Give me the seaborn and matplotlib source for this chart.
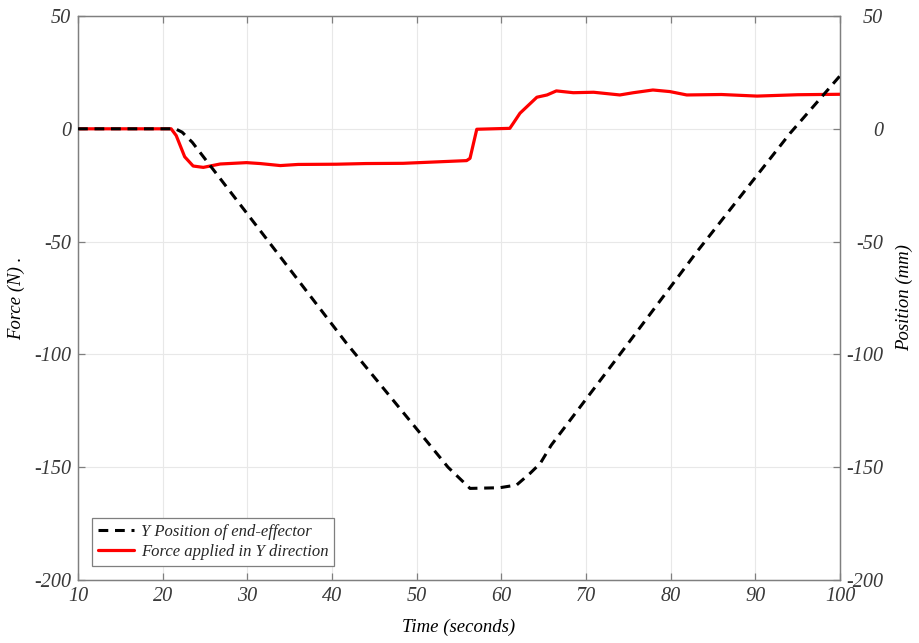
import matplotlib
matplotlib.use("Agg")
import matplotlib.pyplot as plt
import seaborn as sns
import pandas as pd

# ---- data ----
pos_time = [10, 21.5, 22.3, 23.5, 31.9, 41.7, 53.7, 56.3, 59.8, 61.8,
            63.4, 64.6, 65.9, 74, 83, 94.1, 100]
pos_mm = [0, 0, -1.5, -6, -47, -95, -150, -159.4, -159.1, -157.9,
          -152.7, -148.3, -140.2, -100, -55, -2, 23.5]

force_time = [10, 21.0, 21.6, 22.6, 23.6, 24.8, 26.8, 29.9, 31.5, 33.9, 36.0, 40.5,
              44.0, 48.4, 52.8, 55.9, 56.3, 57.1, 61.0, 61.4, 62.2, 64.2, 65.4, 66.5,
              68.5, 70.9, 74.0, 75.6, 77.9, 79.9, 81.9, 86.0, 90.2, 95.0, 100]
force_n = [0, 0, -3, -12.4, -16.5, -17.1, -15.6, -15, -15.4, -16.3, -15.8, -15.7,
           -15.4, -15.3, -14.6, -14.1, -13.1, -0.2, 0.2, 2.4, 6.9, 14, 15, 16.8,
           16, 16.2, 15, 16, 17.2, 16.5, 15, 15.2, 14.5, 15.1, 15.3]

x_ticks = [10, 20, 30, 40, 50, 60, 70, 80, 90, 100]
y_ticks = [-200, -150, -100, -50, 0, 50]
labels = ["Y Position of end-effector", "Force applied in Y direction"]

pos_df = pd.DataFrame({"t": pos_time, "v": pos_mm})
force_df = pd.DataFrame({"t": force_time, "v": force_n})

sns.set_theme(style="whitegrid")
plt.rcParams["font.family"] = ["Liberation Serif", "DejaVu Serif"]
plt.rcParams["font.style"] = "italic"
plt.rcParams["axes.unicode_minus"] = False

fig = plt.figure(figsize=(9.2, 6.43), dpi=100)
ax = fig.add_axes([78 / 920, 1 - 580 / 643, (840 - 78) / 920, (580 - 16) / 643])
ax2 = ax.twinx()

spine_col = "#7f7f7f"
tick_col = "#3a3a3a"

sns.lineplot(data=force_df, x="t", y="v", ax=ax, color="#ff0000", linewidth=2.3,
             label=labels[1], legend=False, zorder=3)
sns.lineplot(data=pos_df, x="t", y="v", ax=ax2, color="black", linewidth=2.2,
             label=labels[0], legend=False, zorder=3)
ax2.lines[0].set_dashes([3.2, 2.2])

for a in (ax, ax2):
    a.set_xlim(10, 100)
    a.set_ylim(-200, 50)
    a.set_yticks(y_ticks)
    a.set_facecolor("none")
    for s in a.spines.values():
        s.set_color(spine_col)
        s.set_linewidth(0.9)
ax.set_facecolor("white")
ax.set_xticks(x_ticks)
ax.grid(True, color="#e8e8e8", linewidth=0.8)
ax2.grid(False)

ax.tick_params(axis="both", direction="in", length=5, width=0.9, color=spine_col,
               labelcolor=tick_col, labelsize=14.5, top=True, bottom=True, left=True)
ax.tick_params(axis="x", pad=5)
ax.tick_params(axis="y", pad=5, right=False)
ax2.tick_params(axis="y", direction="in", length=5, width=0.9, color=spine_col,
                labelcolor=tick_col, labelsize=14.5, pad=31, right=True, left=False)
for lab in ax2.get_yticklabels():
    lab.set_horizontalalignment("right")

ax.set_xlabel("Time (seconds)", fontsize=13.5, color="black", labelpad=9.5)
ax.set_ylabel("Force (N) .", fontsize=13.5, color="black", labelpad=6)
ax2.set_ylabel("Position (mm)", fontsize=13.5, color="black", labelpad=9)

h1 = ax2.lines[0]
h2 = ax.lines[0]
leg = ax2.legend([h1, h2], labels, loc="lower left", bbox_to_anchor=(0.018, 0.025),
                 borderaxespad=0, fontsize=12, frameon=True, fancybox=False,
                 handlelength=2.2, handletextpad=0.4, borderpad=0.35, labelspacing=0.25,
                 framealpha=1)
leg.get_frame().set_edgecolor(spine_col)
leg.get_frame().set_linewidth(0.9)

fig.savefig("out.png", dpi=100)
